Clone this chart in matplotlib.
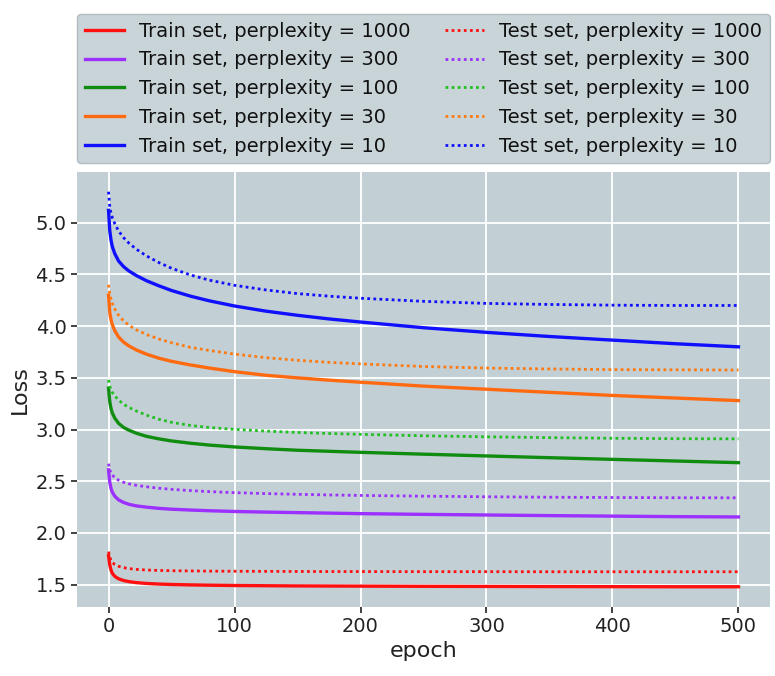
import matplotlib
matplotlib.use("Agg")
import matplotlib.pyplot as plt

epochs = [0, 1, 2, 3, 5, 8, 12, 16, 22, 30, 40, 50, 65, 80, 100, 125, 150, 175, 200, 250, 300, 350, 400, 450, 500]

perplexities = [1000, 300, 100, 30, 10]

train_1000 = [1.78, 1.69, 1.64, 1.61, 1.58, 1.557, 1.54, 1.53, 1.52, 1.512, 1.506, 1.502, 1.498, 1.495, 1.492, 1.49, 1.488, 1.487, 1.486, 1.484, 1.483, 1.482, 1.481, 1.48, 1.48]
test_1000 = [1.82, 1.765, 1.735, 1.715, 1.695, 1.678, 1.665, 1.656, 1.648, 1.642, 1.638, 1.635, 1.633, 1.631, 1.63, 1.629, 1.628, 1.627, 1.627, 1.626, 1.626, 1.625, 1.625, 1.625, 1.625]

train_300 = [2.61, 2.49, 2.43, 2.395, 2.355, 2.32, 2.295, 2.278, 2.262, 2.25, 2.238, 2.23, 2.222, 2.215, 2.208, 2.202, 2.197, 2.192, 2.187, 2.18, 2.174, 2.168, 2.163, 2.158, 2.155]
test_300 = [2.67, 2.61, 2.58, 2.56, 2.535, 2.51, 2.49, 2.476, 2.461, 2.447, 2.433, 2.422, 2.41, 2.40, 2.39, 2.381, 2.374, 2.368, 2.363, 2.356, 2.35, 2.346, 2.343, 2.341, 2.34]

train_100 = [3.40, 3.27, 3.20, 3.16, 3.11, 3.06, 3.02, 2.995, 2.965, 2.935, 2.91, 2.89, 2.868, 2.85, 2.832, 2.815, 2.80, 2.79, 2.78, 2.762, 2.745, 2.728, 2.712, 2.696, 2.68]
test_100 = [3.48, 3.42, 3.385, 3.36, 3.325, 3.285, 3.245, 3.215, 3.18, 3.14, 3.10, 3.07, 3.04, 3.02, 3.002, 2.985, 2.972, 2.962, 2.954, 2.94, 2.93, 2.922, 2.916, 2.912, 2.91]

train_30 = [4.30, 4.13, 4.06, 4.015, 3.955, 3.895, 3.845, 3.81, 3.77, 3.73, 3.69, 3.66, 3.625, 3.595, 3.56, 3.525, 3.50, 3.478, 3.458, 3.42, 3.39, 3.36, 3.33, 3.305, 3.28]
test_30 = [4.40, 4.31, 4.26, 4.22, 4.165, 4.105, 4.05, 4.01, 3.965, 3.92, 3.875, 3.84, 3.795, 3.765, 3.73, 3.695, 3.67, 3.65, 3.635, 3.61, 3.595, 3.586, 3.58, 3.578, 3.576]

train_10 = [5.12, 4.92, 4.83, 4.77, 4.70, 4.63, 4.575, 4.535, 4.49, 4.44, 4.39, 4.345, 4.29, 4.245, 4.195, 4.145, 4.105, 4.07, 4.04, 3.985, 3.94, 3.90, 3.865, 3.83, 3.80]
test_10 = [5.30, 5.15, 5.09, 5.05, 4.99, 4.92, 4.855, 4.805, 4.745, 4.68, 4.615, 4.56, 4.495, 4.445, 4.395, 4.35, 4.315, 4.29, 4.27, 4.24, 4.22, 4.21, 4.203, 4.20, 4.20]

train_series = [train_1000, train_300, train_100, train_30, train_10]
test_series = [test_1000, test_300, test_100, test_30, test_10]

train_colors = ['#ff1010', '#9b30ff', '#108c10', '#ff6a10', '#1010ff']
test_colors = ['#ff1010', '#9b30ff', '#20c020', '#ff7a10', '#1010ff']

text_color = '#222222'
plt.rcParams['font.family'] = ['DejaVu Sans']

fig = plt.figure(figsize=(7.75, 6.76), dpi=100)
ax = fig.add_axes([0.0994, 0.1028, 0.8941, 0.6428])
ax.set_facecolor('#c2cfd4')
for s in ax.spines.values():
    s.set_visible(False)
ax.grid(True, color='white', linewidth=1.3)
ax.set_axisbelow(True)

handles = []
labels = []
for p, ys, c in zip(perplexities, train_series, train_colors):
    h, = ax.plot(epochs, ys, color=c, linewidth=2.4, linestyle='-')
    handles.append(h)
    labels.append(f"Train set, perplexity = {p}")
for p, ys, c in zip(perplexities, test_series, test_colors):
    h, = ax.plot(epochs, ys, color=c, linewidth=2.0, linestyle=(0, (1, 1.2)))
    handles.append(h)
    labels.append(f"Test set, perplexity = {p}")

ax.set_xticks([0, 100, 200, 300, 400, 500])
ax.set_yticks([1.5, 2.0, 2.5, 3.0, 3.5, 4.0, 4.5, 5.0])
ax.tick_params(axis='both', labelsize=14, colors=text_color, length=4, width=1.2, direction='out')
ax.set_xlabel('epoch', fontsize=16, color=text_color)
ax.set_ylabel('Loss', fontsize=16, color=text_color)

leg = ax.legend(handles, labels, loc='lower left', bbox_to_anchor=(0.0, 1.02, 1.0, 0.2),
                mode='expand', ncol=2, fontsize=14, frameon=True, fancybox=True,
                borderaxespad=0.0)
frame = leg.get_frame()
frame.set_facecolor('#c9d4d8')
frame.set_edgecolor('#b0bcc0')
frame.set_alpha(1.0)
for t in leg.get_texts():
    t.set_color('#111111')

fig.savefig('out.png', dpi=100)
